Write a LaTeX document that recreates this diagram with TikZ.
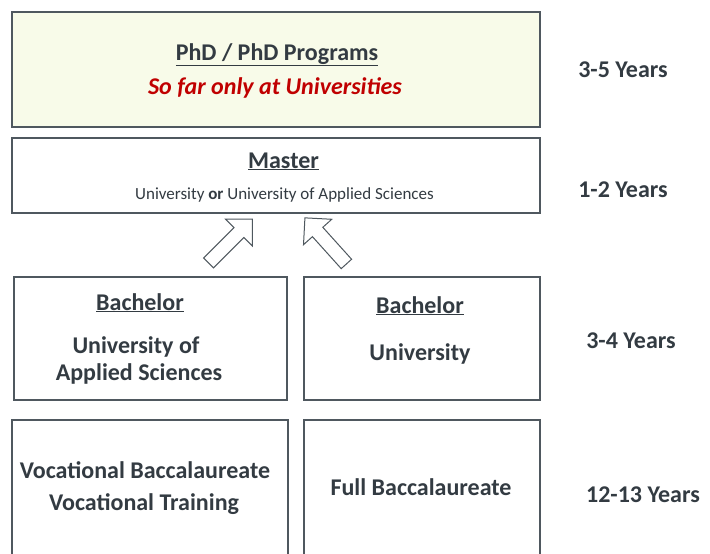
\documentclass[tikz,border=0pt]{standalone}
\usepackage{fontspec}
\setmainfont{Carlito}
\usetikzlibrary{shapes.arrows}
\definecolor{txtgray}{HTML}{333B42}
\definecolor{linegray}{HTML}{4F585F}
\definecolor{phdfill}{HTML}{F8FBE9}
\definecolor{darkred}{HTML}{C00000}

\begin{document}
\begin{tikzpicture}[x=1pt, y=-1pt,
    level/.style={draw=linegray, line width=1.3pt, rectangle, inner sep=0pt, fill=white},
    big/.style={font=\fontsize{24}{28}\selectfont\bfseries, text=txtgray, anchor=base, inner sep=0pt},
    small/.style={font=\fontsize{17}{20}\selectfont, text=txtgray, anchor=base, inner sep=0pt},
    years/.style={big},
    uparrow/.style={draw=linegray, line width=1pt, fill=white, single arrow,
                    minimum height=62pt, single arrow head extend=12pt, inner sep=6.5pt}
]
    \useasboundingbox (0,0) rectangle (710,554);
    \clip (0,0) rectangle (710,554);

    % boxes
    \node[level, fill=phdfill, minimum width=528pt, minimum height=115pt] (phd) at (276,69.5) {};
    \node[level, minimum width=528pt, minimum height=75pt] (master) at (276,175.5) {};
    \node[level, minimum width=273pt, minimum height=123pt] (bacuas) at (150.5,338.5) {};
    \node[level, minimum width=236pt, minimum height=123pt] (bacuni) at (422,338.5) {};
    \node[level, minimum width=276pt, minimum height=160pt] (voc) at (150,500) {};
    \node[level, minimum width=236pt, minimum height=160pt] (full) at (422,500) {};

    % texts (anchored at baseline)
    \node[big] (phdtitle) at (277,60) {\underline{PhD / PhD Programs}};
    \node[big, text=darkred] (phdnote) at (275,94) {\itshape So far only at Universities};
    \node[big] (mastertitle) at (283.5,168) {\underline{Master}};
    \node[small] (masternote) at (284.5,199) {University \textbf{or} University of Applied Sciences};
    \node[big] (uastitle) at (140,310) {\underline{Bachelor}};
    \node[big] (uasname1) at (136,353) {University of};
    \node[big] (uasname2) at (139,380) {Applied Sciences};
    \node[big] (unititle) at (420,313) {\underline{Bachelor}};
    \node[big] (uniname) at (420,360) {University};
    \node[big] (vocname1) at (145,478) {Vocational Baccalaureate};
    \node[big] (vocname2) at (144,510) {Vocational Training};
    \node[big] (fullname) at (421,495) {Full Baccalaureate};

    % durations
    \node[years] (y1) at (623,77) {3-5 Years};
    \node[years] (y2) at (623,197) {1-2 Years};
    \node[years] (y3) at (631,348) {3-4 Years};
    \node[years] (y4) at (643,502) {12-13 Years};

    % arrows up to master
    \node[uparrow, rotate=45] (arrl) at (228,243.5) {};
    \node[uparrow, rotate=132] (arrr) at (328,243.5) {};
\end{tikzpicture}
\end{document}
